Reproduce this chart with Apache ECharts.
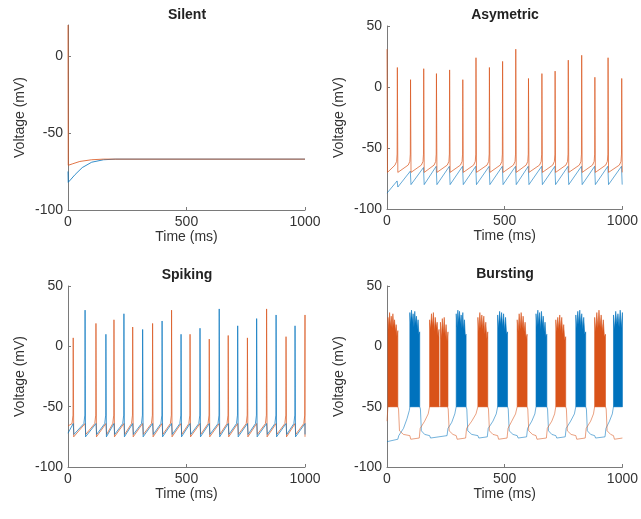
<!DOCTYPE html>
<html><head><meta charset="utf-8">
<script src="https://cdn.jsdelivr.net/npm/echarts@6/dist/echarts.min.js"></script>
<style>html,body{margin:0;padding:0;background:#fff}#c{width:641px;height:519px}</style>
</head><body><div id="c"></div>
<script>
const BLUE = '#0072BD', ORANGE = '#D95319';
const FONT = 'Liberation Sans, Arial, Helvetica, sans-serif';

// ---------- Panel titles / axis labels ----------
const panelTitles = ['Silent', 'Asymetric', 'Spiking', 'Bursting'];
const xTicks = [0, 500, 1000];
const yTicksSilent = [-100, -50, 0];
const yTicksOther = [-100, -50, 0, 50];

// ---------- Silent ----------
const silentOrange = [[0, 20], [1, -71], [20, -70], [50, -68.5], [100, -67.4], [150, -67], [1000, -67]];
const silentBlue = [[0, -75], [1, -82], [10, -80.5], [30, -77], [60, -72.5], [100, -69], [150, -67.4], [200, -67], [1000, -67]];

// ---------- Asymetric ----------
const asymSpikeTimes = [0, 44, 100, 156, 210, 266, 322, 378, 435, 491, 547, 601, 658, 714, 770, 827, 883, 939, 997];
const asymPeaks = [31, 16, 6, 15, 11, 14, 6, 24, 16, 21, 31, 7, 11, 13, 22, 26, 8, 24, 7];
const asymBlueHigh = [-77, -69, -66, -65, -65, -65, -65, -65, -65, -65, -65, -65, -65, -65, -65, -65, -65, -65];
const asymBlueLow = [-82, -80, -80, -80, -80, -80, -80, -80, -80, -80, -80, -80, -80, -80, -80, -80, -80, -80];
const asymOrangeReset = -70, asymOrangePre = -64;

// ---------- Spiking ----------
const spikOrangeTimes = [22, 118, 194, 273, 357, 437, 515, 596, 676, 757, 838, 920, 1000];
const spikOrangePeaks = [7, 19, 22, 16, 19, 30, 10, 6, 9, 7, 31, 8, 26];
const spikBlueTimes = [72, 160, 236, 315, 397, 477, 557, 638, 716, 796, 878, 958];
const spikBluePeaks = [30, 10, 27, 14, 21, 10, 15, 31, 17, 23, 26, 17];
const spikReset = -75, spikPre = -64, spikInhib = -73;

// ---------- Bursting ----------
const burstBlueBase = [[0,-79],[46,-77],[50,-74],[70,-68],[85,-60],[95,-53],[97,-50],[139,-50],[142,-52],[146,-70],[160,-73],[181,-74],[185,-76],[255,-74],[259,-68],[275,-63],[288,-56],[294,-50],[336,-50],[339,-52],[343,-70],[360,-73],[386,-74],[390,-76],[426,-75],[430,-68],[450,-62],[464,-56],[470,-50],[512,-50],[515,-52],[519,-70],[535,-73],[553,-74],[557,-76],[593,-75],[597,-68],[615,-62],[628,-56],[633,-50],[679,-50],[682,-52],[686,-70],[700,-73],[717,-74],[721,-76],[757,-75],[761,-68],[780,-62],[796,-56],[802,-50],[844,-50],[847,-52],[851,-70],[865,-73],[882,-74],[886,-76],[926,-75],[930,-68],[945,-62],[957,-56],[962,-50],[1000,-50]];
const burstOrangeBase = [[0,-62],[4,-50],[46,-50],[49,-52],[53,-70],[70,-73],[97,-74],[101,-77],[137,-76],[141,-68],[160,-62],[175,-56],[181,-50],[257,-50],[260,-52],[264,-70],[280,-73],[294,-74],[298,-77],[334,-76],[338,-68],[360,-62],[378,-56],[386,-50],[428,-50],[431,-52],[435,-70],[450,-73],[470,-74],[474,-77],[510,-76],[514,-68],[530,-62],[546,-56],[553,-50],[595,-50],[598,-52],[602,-70],[618,-73],[633,-74],[637,-77],[677,-76],[681,-68],[700,-62],[712,-56],[717,-50],[759,-50],[762,-52],[766,-70],[782,-73],[802,-74],[806,-77],[842,-76],[846,-68],[865,-62],[877,-56],[882,-50],[928,-50],[931,-52],[935,-70],[950,-73],[962,-74],[966,-77],[1000,-76]];
const burstFloor = -50;
const orangeBurstStart = [4, 181, 227, 386, 553, 717, 882];
const orangeBurstEnd   = [46, 221, 259, 428, 595, 759, 928];
const orangeBurstTops = [
  [24,14,28,16,25,15,27,17,22,12,18,8,13],
  [22,14,27,16,28,12,24,15,20,8,14],
  [20,6,23,10,24,8,18,4,12],
  [24,12,28,15,26,14,25,10,20,6,12],
  [22,12,27,14,28,15,25,12,20,6,10],
  [22,12,24,14,26,13,24,10,18,5,8],
  [24,12,28,15,30,16,26,12,22,8,10]
];
const blueBurstStart = [97, 294, 470, 633, 802, 962];
const blueBurstEnd   = [139, 336, 512, 679, 844, 1000];
const blueBurstTops = [
  [28,18,30,20,27,16,29,19,25,14,22,10,12],
  [27,16,30,20,29,18,26,15,28,14,22,9,10],
  [26,15,29,18,28,16,27,13,24,10,12],
  [27,16,30,18,28,14,29,17,25,12,20,8,10],
  [26,15,29,18,30,17,27,14,24,10,12],
  [26,14,29,18,27,16,30,15,28]
];

// ---------- build traces from the read events ----------
const asymOrange = [];
asymSpikeTimes.forEach((t, i) => {
  if (i > 0) asymOrange.push([t - 10, asymOrangePre], [t - 3, asymOrangePre + 3], [t - 1, asymOrangePre + 9]);
  asymOrange.push([t, asymPeaks[i]], [Math.min(t + 2, 1000), asymOrangeReset]);
});
const asymBlue = [[0, -87]];
asymSpikeTimes.slice(1).forEach((t, i) => {
  asymBlue.push([t - 1, asymBlueHigh[i]], [Math.min(t + 2, 1000), asymBlueLow[i]]);
});

function spikTrace(ownT, ownP, otherT, start) {
  const ev = ownT.map((t, i) => ({t, own: true, p: ownP[i]})).concat(otherT.map(t => ({t, own: false}))).sort((a, b) => a.t - b.t);
  const out = [[0, start]];
  ev.forEach(e => {
    if (e.own) out.push([e.t - 5, spikPre], [e.t - 1, spikPre + 7], [e.t, e.p], [Math.min(e.t + 2, 1000), spikReset]);
    else out.push([e.t, spikPre], [Math.min(e.t + 3, 1000), spikInhib]);
  });
  return out;
}
const spikOrange = spikTrace(spikOrangeTimes, spikOrangePeaks, spikBlueTimes, -66);
const spikBlue = spikTrace(spikBlueTimes, spikBluePeaks, spikOrangeTimes, -72);

function burstPolys(starts, ends, tops) {
  return starts.map((s, i) => {
    const e = ends[i], tp = tops[i], n = tp.length;
    const pts = [[s, burstFloor]];
    tp.forEach((v, k) => pts.push([s + (e - s) * k / (n - 1), v]));
    pts.push([e, burstFloor]);
    return pts;
  });
}
const orangePolys = burstPolys(orangeBurstStart, orangeBurstEnd, orangeBurstTops);
const bluePolys = burstPolys(blueBurstStart, blueBurstEnd, blueBurstTops);

// ---------- layout ----------
const grids = [
  {left: 68, top: 25, width: 237, height: 185},
  {left: 387, top: 26, width: 237, height: 183},
  {left: 68, top: 286, width: 237, height: 181},
  {left: 387, top: 286, width: 237, height: 181}
];
const AX = '#7a7a7a', TX = '#333333';
function xAx(i) {
  return {gridIndex: i, type: 'value', min: xTicks[0], max: xTicks[xTicks.length - 1], interval: xTicks[1] - xTicks[0],
    name: 'Time (ms)', nameLocation: 'middle', nameGap: 19,
    nameTextStyle: {fontSize: 14, color: TX, fontFamily: FONT},
    axisLine: {show: true, onZero: false, lineStyle: {color: AX, width: 1}},
    axisTick: {show: true, inside: true, length: 3, lineStyle: {color: AX}},
    axisLabel: {fontSize: 14, color: TX, margin: 5, fontFamily: FONT, showMaxLabel: true, showMinLabel: true,
      formatter: v => String(v)},
    splitLine: {show: false}};
}
function yAx(i, ticks, max) {
  return {gridIndex: i, type: 'value', min: ticks[0], max: max, interval: ticks[1] - ticks[0],
    name: 'Voltage (mV)', nameLocation: 'middle', nameGap: 41, nameRotate: 90,
    nameTextStyle: {fontSize: 14, color: TX, fontFamily: FONT},
    axisLine: {show: true, onZero: false, lineStyle: {color: AX, width: 1}},
    axisTick: {show: true, inside: true, length: 3, lineStyle: {color: AX}},
    axisLabel: {fontSize: 14, color: TX, margin: 5, fontFamily: FONT, showMaxLabel: max === ticks[ticks.length - 1],
      formatter: v => String(v)},
    splitLine: {show: false}};
}
function line(idx, data, color, op) {
  return {type: 'line', xAxisIndex: idx, yAxisIndex: idx, data, showSymbol: false, symbol: 'none',
    lineStyle: {color, width: 1, opacity: op}, silent: true, animation: false, clip: true, z: 2};
}
function polySeries(idx, polys, color) {
  return {type: 'custom', xAxisIndex: idx, yAxisIndex: idx, silent: true, animation: false, clip: true, z: 3,
    data: polys.map((p, i) => [p[0][0], burstFloor, i]),
    encode: {x: 0, y: 1},
    renderItem: (params, api) => {
      const p = polys[params.dataIndex];
      return {type: 'polygon', shape: {points: p.map(q => api.coord(q))}, style: {fill: color, stroke: color, lineWidth: 0.6}};
    }};
}
const titleCenters = [[187, 8], [505, 8], [187, 268], [505, 267]];

const option = {
  animation: false,
  backgroundColor: '#ffffff',
  title: panelTitles.map((t, i) => ({text: t, left: titleCenters[i][0], top: titleCenters[i][1], textAlign: 'center', padding: 0,
    textStyle: {fontSize: 14, fontWeight: 'bold', color: '#222', fontFamily: FONT}})),
  grid: grids,
  xAxis: [0, 1, 2, 3].map(xAx),
  yAxis: [yAx(0, yTicksSilent, 20), yAx(1, yTicksOther, 50), yAx(2, yTicksOther, 50), yAx(3, yTicksOther, 50)],
  series: [
    line(0, silentBlue, BLUE, 0.8),
    line(0, silentOrange, ORANGE, 0.8),
    line(1, asymBlue, BLUE, 0.6),
    line(1, asymOrange, ORANGE, 0.7),
    line(2, spikOrange, ORANGE, 0.7),
    line(2, spikBlue, BLUE, 0.7),
    line(3, burstBlueBase, BLUE, 0.55),
    line(3, burstOrangeBase, ORANGE, 0.55),
    polySeries(3, orangePolys, ORANGE),
    polySeries(3, bluePolys, BLUE)
  ]
};
const chart = echarts.init(document.getElementById('c'), null, {renderer: 'canvas'});
chart.setOption(option);
</script>
</body></html>
